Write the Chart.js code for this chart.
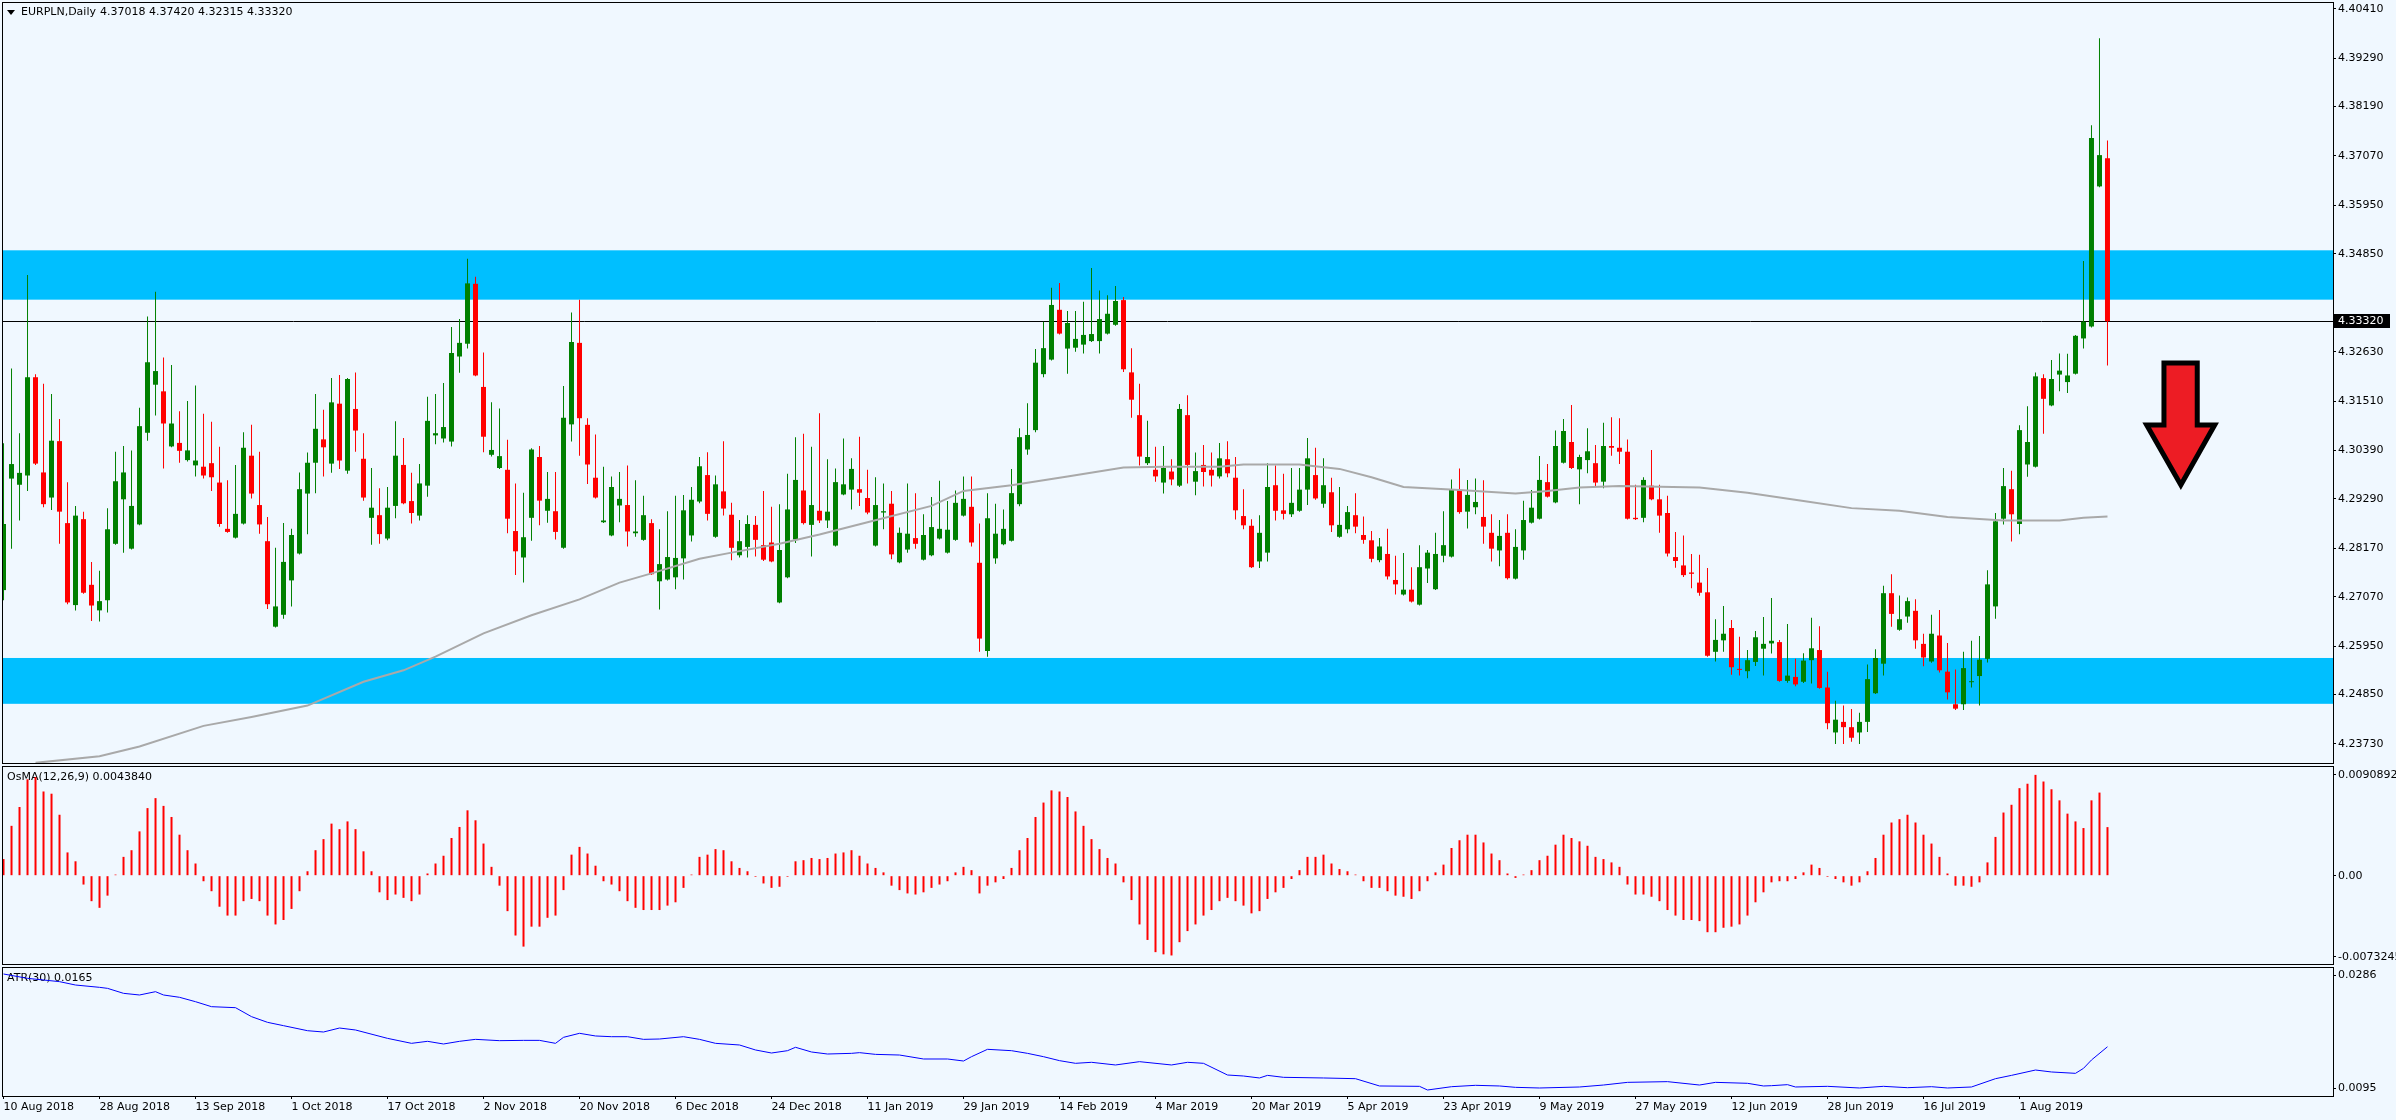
<!DOCTYPE html>
<html>
<head>
<meta charset="utf-8">
<title>EURPLN, Daily</title>
<script src="https://cdn.jsdelivr.net/npm/chart.js@4.4.1/dist/chart.umd.min.js"></script>
<style>
  body { margin: 0; background: #f0f8ff; }
  #wrap { position: relative; width: 2396px; height: 1120px; background: #f0f8ff; overflow: hidden; }
  canvas { position: absolute; left: 0; }
</style>
</head>
<body>
<div id="wrap">
  <canvas id="priceChart" width="2396" height="765" style="top:0px"></canvas>
  <canvas id="osmaChart" width="2396" height="201" style="top:765px"></canvas>
  <canvas id="atrChart" width="2396" height="154" style="top:966px"></canvas>
</div>
<script>
// ---- data (one entry per daily bar, 10 Aug 2018 .. Aug 2019) ----
var opens = [
  4.2722, 4.2975, 4.2961, 4.2982, 4.3205, 4.2989, 4.2932, 4.3060, 4.2874, 4.2688,
  4.2883, 4.2734, 4.2676, 4.2699, 4.2827, 4.2928, 4.2816, 4.2871, 4.3079, 4.3188,
  4.3173, 4.3048, 4.3056, 4.3017, 4.3005, 4.3002, 4.3010, 4.2966, 4.2861, 4.2841,
  4.2873, 4.3027, 4.2915, 4.2833, 4.2639, 4.2666, 4.2744, 4.2805, 4.2941, 4.3011,
  4.3064, 4.3009, 4.3145, 4.2993, 4.3133, 4.3020, 4.2886, 4.2892, 4.2839, 4.2913,
  4.3006, 4.2924, 4.2891, 4.2959, 4.3073, 4.3066, 4.3059, 4.3252, 4.3281, 4.3417,
  4.3183, 4.3029, 4.2999, 4.2995, 4.2856, 4.2796, 4.2886, 4.3024, 4.2902, 4.2901,
  4.2818, 4.3098, 4.3283, 4.3097, 4.2977, 4.2876, 4.2846, 4.2914, 4.2915, 4.2851,
  4.2836, 4.2874, 4.2742, 4.2746, 4.2751, 4.2794, 4.2846, 4.2923, 4.2983, 4.2843,
  4.2946, 4.2893, 4.2801, 4.2820, 4.2870, 4.2824, 4.2830, 4.2694, 4.2751, 4.2837,
  4.2948, 4.2870, 4.2902, 4.2880, 4.2823, 4.2939, 4.2950, 4.2951, 4.2931, 4.2823,
  4.2898, 4.2918, 4.2785, 4.2814, 4.2840, 4.2791, 4.2801, 4.2839, 4.2807, 4.2836,
  4.2891, 4.2911, 4.2784, 4.2584, 4.2794, 4.2826, 4.2834, 4.2917, 4.3041, 4.3085,
  4.3212, 4.3245, 4.3358, 4.3270, 4.3272, 4.3279, 4.3287, 4.3287, 4.3304, 4.3324,
  4.3380, 4.3216, 4.3119, 4.3010, 4.2995, 4.2966, 4.2991, 4.2959, 4.3119, 4.2968,
  4.3006, 4.2995, 4.2980, 4.3019, 4.2977, 4.2890, 4.2868, 4.2787, 4.2807, 4.2960,
  4.2903, 4.2894, 4.2902, 4.2950, 4.2983, 4.2918, 4.2944, 4.2843, 4.2860, 4.2892,
  4.2847, 4.2835, 4.2790, 4.2804, 4.2745, 4.2712, 4.2723, 4.2689, 4.2771, 4.2724,
  4.2800, 4.2798, 4.2949, 4.2900, 4.2910, 4.2888, 4.2852, 4.2812, 4.2852, 4.2748,
  4.2812, 4.2875, 4.2884, 4.2967, 4.2921, 4.3011, 4.3058, 4.2996, 4.3017, 4.3010,
  4.2968, 4.3049, 4.3045, 4.3036, 4.2886, 4.2886, 4.2959, 4.2928, 4.2897, 4.2797,
  4.2778, 4.2762, 4.2739, 4.2717, 4.2582, 4.2608, 4.2636, 4.2543, 4.2538, 4.2559,
  4.2589, 4.2601, 4.2604, 4.2516, 4.2525, 4.2514, 4.2563, 4.2586, 4.2501, 4.2399,
  4.2423, 4.2411, 4.2399, 4.2423, 4.2488, 4.2555, 4.2715, 4.2632, 4.2662, 4.2675,
  4.2600, 4.2560, 4.2619, 4.2537, 4.2463, 4.2463, 4.2513, 4.2527, 4.2566, 4.2685,
  4.2884, 4.2951, 4.2872, 4.3007, 4.3002, 4.3203, 4.3141, 4.3211, 4.3194, 4.3213,
  4.3293, 4.3320, 4.3638, 4.37018
];
var highs = [
  4.3055, 4.3225, 4.3078, 4.3437, 4.3212, 4.3190, 4.3167, 4.3110, 4.2967, 4.2913,
  4.2900, 4.2786, 4.2766, 4.2908, 4.3036, 4.3049, 4.3039, 4.3136, 4.3343, 4.3399,
  4.3250, 4.3233, 4.3128, 4.3151, 4.3186, 4.3122, 4.3104, 4.3047, 4.2971, 4.3006,
  4.3080, 4.3097, 4.3036, 4.2888, 4.2818, 4.2874, 4.2861, 4.2989, 4.3034, 4.3167,
  4.3131, 4.3203, 4.3210, 4.3203, 4.3216, 4.3078, 4.2999, 4.2953, 4.2956, 4.3105,
  4.3067, 4.2988, 4.3008, 4.3161, 4.3167, 4.3192, 4.3319, 4.3337, 4.3474, 4.3433,
  4.3261, 4.3148, 4.3134, 4.3063, 4.2964, 4.2943, 4.3044, 4.3049, 4.2990, 4.2990,
  4.3185, 4.3352, 4.3381, 4.3112, 4.3075, 4.3002, 4.2980, 4.2990, 4.3005, 4.2971,
  4.2936, 4.2883, 4.2860, 4.2901, 4.2936, 4.2938, 4.2956, 4.3024, 4.3035, 4.2982,
  4.3060, 4.2920, 4.2881, 4.2892, 4.2890, 4.2947, 4.2911, 4.2917, 4.2986, 4.3069,
  4.3077, 4.3047, 4.3123, 4.3019, 4.2998, 4.3066, 4.3021, 4.3070, 4.2995, 4.2978,
  4.2964, 4.2947, 4.2864, 4.2964, 4.2942, 4.2894, 4.2933, 4.2970, 4.2924, 4.2948,
  4.2980, 4.2980, 4.2873, 4.2942, 4.2918, 4.2905, 4.2997, 4.3089, 4.3146, 4.3269,
  4.3331, 4.3408, 4.3419, 4.3355, 4.3355, 4.3376, 4.3453, 4.3402, 4.3391, 4.3412,
  4.3387, 4.3271, 4.3190, 4.3106, 4.3047, 4.3049, 4.3019, 4.3144, 4.3164, 4.3034,
  4.3051, 4.3034, 4.3056, 4.3060, 4.3024, 4.2951, 4.2883, 4.2892, 4.3010, 4.3005,
  4.2986, 4.2999, 4.2999, 4.3067, 4.3045, 4.3021, 4.2977, 4.2956, 4.2913, 4.2942,
  4.2889, 4.2856, 4.2840, 4.2861, 4.2800, 4.2806, 4.2774, 4.2824, 4.2813, 4.2852,
  4.2901, 4.2973, 4.2998, 4.2972, 4.2975, 4.2971, 4.2894, 4.2881, 4.2894, 4.2860,
  4.2925, 4.2949, 4.3026, 4.3008, 4.3084, 4.3110, 4.3142, 4.3029, 4.3089, 4.3051,
  4.3102, 4.3114, 4.3112, 4.3064, 4.2961, 4.2978, 4.3040, 4.2961, 4.2936, 4.2854,
  4.2846, 4.2804, 4.2802, 4.2772, 4.2656, 4.2686, 4.2654, 4.2616, 4.2586, 4.2629,
  4.2661, 4.2704, 4.2609, 4.2645, 4.2566, 4.2579, 4.2659, 4.2640, 4.2537, 4.2471,
  4.2460, 4.2452, 4.2444, 4.2553, 4.2588, 4.2732, 4.2758, 4.2710, 4.2705, 4.2701,
  4.2623, 4.2666, 4.2677, 4.2602, 4.2542, 4.2582, 4.2607, 4.2618, 4.2767, 4.2897,
  4.2999, 4.2993, 4.3096, 4.3139, 4.3216, 4.3212, 4.3244, 4.3259, 4.3258, 4.3301,
  4.3469, 4.3777, 4.3974, 4.37420
];
var lows = [
  4.2699, 4.2816, 4.2880, 4.2947, 4.3006, 4.2910, 4.2904, 4.2827, 4.2690, 4.2676,
  4.2714, 4.2652, 4.2651, 4.2671, 4.2825, 4.2807, 4.2814, 4.2869, 4.3061, 4.3118,
  4.2998, 4.3046, 4.3011, 4.3014, 4.2980, 4.2975, 4.2947, 4.2866, 4.2852, 4.2839,
  4.2871, 4.2930, 4.2850, 4.2679, 4.2637, 4.2657, 4.2685, 4.2803, 4.2849, 4.2942,
  4.2980, 4.2988, 4.2997, 4.2986, 4.3036, 4.2925, 4.2825, 4.2827, 4.2835, 4.2885,
  4.2917, 4.2873, 4.2880, 4.2934, 4.3053, 4.3057, 4.3048, 4.3215, 4.3270, 4.3207,
  4.3035, 4.3025, 4.2997, 4.2851, 4.2756, 4.2739, 4.2834, 4.2869, 4.2875, 4.2837,
  4.2816, 4.3059, 4.3027, 4.2963, 4.2930, 4.2874, 4.2844, 4.2876, 4.2821, 4.2843,
  4.2834, 4.2756, 4.2678, 4.2744, 4.2724, 4.2746, 4.2832, 4.2919, 4.2880, 4.2841,
  4.2891, 4.2790, 4.2796, 4.2796, 4.2798, 4.2788, 4.2785, 4.2692, 4.2749, 4.2829,
  4.2871, 4.2798, 4.2874, 4.2863, 4.2821, 4.2937, 4.2905, 4.2913, 4.2894, 4.2821,
  4.2860, 4.2792, 4.2783, 4.2807, 4.2816, 4.2789, 4.2799, 4.2837, 4.2805, 4.2834,
  4.2889, 4.2821, 4.2582, 4.2571, 4.2782, 4.2824, 4.2832, 4.2912, 4.3029, 4.3080,
  4.3205, 4.3243, 4.3302, 4.3213, 4.3263, 4.3259, 4.3285, 4.3259, 4.3302, 4.3322,
  4.3217, 4.3113, 4.3005, 4.3006, 4.2968, 4.2941, 4.2960, 4.2956, 4.2964, 4.2937,
  4.2957, 4.2957, 4.2975, 4.2978, 4.2882, 4.2860, 4.2772, 4.2772, 4.2787, 4.2880,
  4.2882, 4.2888, 4.2900, 4.2915, 4.2927, 4.2909, 4.2854, 4.2841, 4.2851, 4.2851,
  4.2827, 4.2785, 4.2785, 4.2746, 4.2712, 4.2710, 4.2694, 4.2687, 4.2738, 4.2722,
  4.2785, 4.2796, 4.2895, 4.2862, 4.2894, 4.2827, 4.2787, 4.2776, 4.2746, 4.2746,
  4.2791, 4.2873, 4.2882, 4.2932, 4.2919, 4.3009, 4.2997, 4.2917, 4.2987, 4.2958,
  4.2953, 4.3027, 4.3008, 4.2882, 4.2881, 4.2876, 4.2926, 4.2852, 4.2798, 4.2773,
  4.2752, 4.2726, 4.2709, 4.2571, 4.2560, 4.2582, 4.2530, 4.2528, 4.2522, 4.2550,
  4.2528, 4.2578, 4.2514, 4.2512, 4.2504, 4.2511, 4.2510, 4.2498, 4.2406, 4.2373,
  4.2373, 4.2378, 4.2373, 4.2400, 4.2486, 4.2528, 4.2639, 4.2630, 4.2648, 4.2589,
  4.2549, 4.2557, 4.2535, 4.2474, 4.2450, 4.2450, 4.2501, 4.2460, 4.2558, 4.2657,
  4.2871, 4.2832, 4.2849, 4.2979, 4.3000, 4.3077, 4.3139, 4.3173, 4.3169, 4.3211,
  4.3270, 4.3318, 4.3636, 4.32315
];
var closes = [
  4.2872, 4.3008, 4.2988, 4.3205, 4.3009, 4.2917, 4.3061, 4.2900, 4.2694, 4.2891,
  4.2716, 4.2687, 4.2697, 4.2860, 4.2969, 4.2989, 4.2913, 4.3094, 4.3239, 4.3219,
  4.3100, 4.3100, 4.3038, 4.3039, 4.3016, 4.2982, 4.2978, 4.2872, 4.2854, 4.2895,
  4.3045, 4.2941, 4.2871, 4.2690, 4.2685, 4.2786, 4.2847, 4.2951, 4.3011, 4.3088,
  4.3046, 4.3148, 4.3016, 4.3201, 4.3084, 4.2932, 4.2909, 4.2849, 4.2909, 4.3027,
  4.2919, 4.2897, 4.2964, 4.3106, 4.3078, 4.3092, 4.3260, 4.3283, 4.3418, 4.3209,
  4.3070, 4.3040, 4.3026, 4.2884, 4.2810, 4.2842, 4.3041, 4.2925, 4.2929, 4.2854,
  4.3113, 4.3285, 4.3112, 4.3007, 4.2932, 4.2880, 4.2956, 4.2929, 4.2855, 4.2855,
  4.2892, 4.2758, 4.2781, 4.2797, 4.2795, 4.2903, 4.2927, 4.3003, 4.2895, 4.2962,
  4.2907, 4.2818, 4.2833, 4.2872, 4.2836, 4.2791, 4.2787, 4.2813, 4.2905, 4.2972,
  4.2874, 4.2915, 4.2880, 4.2900, 4.2967, 4.2962, 4.2997, 4.2943, 4.2898, 4.2915,
  4.2901, 4.2803, 4.2852, 4.2850, 4.2827, 4.2847, 4.2865, 4.2861, 4.2859, 4.2920,
  4.2929, 4.2830, 4.2612, 4.2885, 4.2850, 4.2861, 4.2942, 4.3069, 4.3074, 4.3238,
  4.3271, 4.3369, 4.3304, 4.3328, 4.3292, 4.3301, 4.3303, 4.3337, 4.3349, 4.3378,
  4.3223, 4.3154, 4.3025, 4.3024, 4.2980, 4.2999, 4.2973, 4.3133, 4.3006, 4.2992,
  4.2990, 4.2982, 4.3021, 4.2987, 4.2903, 4.2869, 4.2774, 4.2852, 4.2956, 4.2902,
  4.2895, 4.2920, 4.2950, 4.3021, 4.2930, 4.2960, 4.2869, 4.2870, 4.2899, 4.2866,
  4.2836, 4.2793, 4.2821, 4.2753, 4.2735, 4.2723, 4.2696, 4.2774, 4.2807, 4.2804,
  4.2824, 4.2950, 4.2899, 4.2938, 4.2922, 4.2866, 4.2816, 4.2845, 4.2749, 4.2820,
  4.2881, 4.2909, 4.2972, 4.2934, 4.3049, 4.3083, 4.2999, 4.3024, 4.3037, 4.2966,
  4.3049, 4.3045, 4.3036, 4.2884, 4.2883, 4.2972, 4.2928, 4.2891, 4.2805, 4.2788,
  4.2756, 4.2759, 4.2716, 4.2573, 4.2609, 4.2623, 4.2547, 4.2541, 4.2563, 4.2615,
  4.2600, 4.2607, 4.2516, 4.2528, 4.2508, 4.2562, 4.2590, 4.2500, 4.2420, 4.2428,
  4.2411, 4.2387, 4.2423, 4.2520, 4.2568, 4.2715, 4.2668, 4.2656, 4.2697, 4.2608,
  4.2569, 4.2623, 4.2540, 4.2490, 4.2453, 4.2545, 4.2515, 4.2564, 4.2735, 4.2878,
  4.2958, 4.2894, 4.3085, 4.3058, 4.3207, 4.3156, 4.3201, 4.3220, 4.3209, 4.3299,
  4.3331, 4.3748, 4.3709, 4.33320
];

// moving average (grey line), sampled at bar indices
var maIdx = [4, 12, 17, 25, 31, 38, 45, 50, 54, 60,
  66, 72, 77, 81, 87, 91, 97, 102, 108, 116,
  120, 126, 133, 140, 145, 152, 155, 162, 167, 171,
  175, 182, 189, 193, 197, 202, 212, 218, 225, 231,
  237, 243, 250, 257, 260, 263];
var maVal = [4.2330, 4.2345, 4.2367, 4.2414, 4.2434, 4.2460, 4.2514, 4.2540, 4.2571, 4.2624,
  4.2665, 4.2701, 4.2739, 4.2760, 4.2793, 4.2807, 4.2827, 4.2848, 4.2876, 4.2913,
  4.2947, 4.2960, 4.2980, 4.3000, 4.3002, 4.3002, 4.3007, 4.3007, 4.2997, 4.2978,
  4.2956, 4.2949, 4.2941, 4.2947, 4.2955, 4.2958, 4.2955, 4.2943, 4.2924, 4.2908,
  4.2902, 4.2888, 4.2880, 4.2880, 4.2886, 4.2889];

// OsMA(12,26,9) histogram, one per bar
var osma = [
  0.0015, 0.0045, 0.0062, 0.0087, 0.0089, 0.0076, 0.0074, 0.0055, 0.0021, 0.0013,
  -0.0008, -0.0023, -0.0029, -0.0018, 0.0001, 0.0017, 0.0023, 0.0040, 0.0061, 0.0070,
  0.0063, 0.0053, 0.0037, 0.0023, 0.0011, -0.0005, -0.0014, -0.0028, -0.0036, -0.0036,
  -0.0023, -0.0021, -0.0023, -0.0036, -0.0044, -0.0040, -0.0030, -0.0014, 0.0004, 0.0023,
  0.0033, 0.0047, 0.0042, 0.0049, 0.0042, 0.0022, 0.0004, -0.0015, -0.0022, -0.0017,
  -0.0020, -0.0023, -0.0017, 0.0002, 0.0011, 0.0018, 0.0034, 0.0044, 0.0059, 0.0050,
  0.0029, 0.0008, -0.0009, -0.0032, -0.0054, -0.0064, -0.0046, -0.0046, -0.0038, -0.0036,
  -0.0013, 0.0019, 0.0026, 0.0020, 0.0009, -0.0005, -0.0008, -0.0014, -0.0023, -0.0029,
  -0.0031, -0.0031, -0.0031, -0.0027, -0.0024, -0.0011, 0.0001, 0.0017, 0.0019, 0.0024,
  0.0023, 0.0013, 0.0007, 0.0004, -0.0001, -0.0007, -0.0011, -0.0010, -0.0001, 0.0013,
  0.0014, 0.0016, 0.0015, 0.0016, 0.0020, 0.0021, 0.0023, 0.0018, 0.0011, 0.0007,
  0.0003, -0.0009, -0.0013, -0.0016, -0.0017, -0.0015, -0.0011, -0.0008, -0.0005, 0.0003,
  0.0008, 0.0005, -0.0016, -0.0009, -0.0006, -0.0003, 0.0007, 0.0023, 0.0034, 0.0053,
  0.0066, 0.0077, 0.0076, 0.0071, 0.0058, 0.0045, 0.0033, 0.0024, 0.0016, 0.0011,
  -0.0006, -0.0022, -0.0044, -0.0058, -0.0069, -0.0071, -0.0072, -0.0060, -0.0050, -0.0044,
  -0.0036, -0.0031, -0.0023, -0.0020, -0.0023, -0.0027, -0.0034, -0.0032, -0.0021, -0.0015,
  -0.0011, -0.0003, 0.0005, 0.0017, 0.0017, 0.0019, 0.0011, 0.0006, 0.0004, 0.0001,
  -0.0005, -0.0011, -0.0011, -0.0014, -0.0018, -0.0019, -0.0021, -0.0014, -0.0005, 0.0003,
  0.0010, 0.0025, 0.0032, 0.0037, 0.0037, 0.0030, 0.0020, 0.0014, 0.0002, -0.0002,
  0.0001, 0.0005, 0.0014, 0.0018, 0.0028, 0.0037, 0.0034, 0.0031, 0.0027, 0.0017,
  0.0015, 0.0012, 0.0008, -0.0008, -0.0017, -0.0017, -0.0019, -0.0023, -0.0031, -0.0036,
  -0.0040, -0.0040, -0.0041, -0.0051, -0.0051, -0.0047, -0.0046, -0.0044, -0.0036, -0.0024,
  -0.0015, -0.0006, -0.0005, -0.0005, -0.0003, 0.0003, 0.0010, 0.0007, -0.0001, -0.0003,
  -0.0006, -0.0009, -0.0006, 0.0004, 0.0016, 0.0037, 0.0048, 0.0051, 0.0055, 0.0048,
  0.0037, 0.0029, 0.0017, 0.0002, -0.0009, -0.0009, -0.0010, -0.0006, 0.0012, 0.0035,
  0.0057, 0.0064, 0.0079, 0.0083, 0.0091, 0.0085, 0.0078, 0.0068, 0.0056, 0.0049,
  0.0043, 0.0068, 0.0075, 0.004384
];

// ATR(30), sampled at bar indices
var atrIdx = [0, 3, 5, 7, 9, 12, 13, 15, 17, 19,
  20, 22, 24, 26, 29, 31, 33, 35, 38, 40,
  42, 44, 48, 51, 53, 55, 57, 59, 62, 65,
  67, 69, 70, 72, 74, 76, 78, 80, 82, 85,
  87, 89, 92, 94, 96, 98, 99, 101, 103, 106,
  107, 109, 112, 115, 118, 120, 121, 123, 126, 128,
  130, 132, 134, 136, 139, 142, 146, 148, 150, 153,
  155, 157, 158, 160, 165, 169, 172, 177, 178, 181,
  184, 187, 189, 192, 197, 200, 203, 208, 212, 214,
  218, 220, 221, 223, 224, 228, 232, 235, 238, 241,
  243, 246, 249, 251, 254, 256, 259, 260, 261, 263];
var atrVal = [0.02877, 0.02804, 0.02776, 0.02748, 0.02691, 0.02652, 0.02635, 0.02551, 0.02523, 0.02579,
  0.02523, 0.02484, 0.02410, 0.02326, 0.02309, 0.02158, 0.02062, 0.02006, 0.01921, 0.01899,
  0.01966, 0.01933, 0.01792, 0.01708, 0.01742, 0.01697, 0.01742, 0.01775, 0.01753, 0.01758,
  0.01758, 0.01708, 0.01809, 0.01877, 0.01832, 0.01820, 0.01820, 0.01775, 0.01781, 0.01820,
  0.01775, 0.01708, 0.01680, 0.01596, 0.01545, 0.01584, 0.01641, 0.01562, 0.01528, 0.01539,
  0.01551, 0.01522, 0.01511, 0.01444, 0.01444, 0.01410, 0.01483, 0.01607, 0.01584, 0.01539,
  0.01483, 0.01416, 0.01371, 0.01388, 0.01343, 0.01399, 0.01343, 0.01388, 0.01371, 0.01174,
  0.01157, 0.01124, 0.01168, 0.01135, 0.01124, 0.01112, 0.00989, 0.00983, 0.00921, 0.00977,
  0.01000, 0.00989, 0.00966, 0.00955, 0.00972, 0.01005, 0.01050, 0.01062, 0.01005, 0.01050,
  0.01034, 0.00989, 0.00994, 0.01011, 0.00972, 0.00983, 0.00955, 0.00983, 0.00960, 0.00977,
  0.00955, 0.00972, 0.01112, 0.01168, 0.01258, 0.01225, 0.01202, 0.01286, 0.01427, 0.0165];

// axis labels
var dateIdx = [0, 12, 24, 36, 48, 60, 72, 84, 96, 108, 120, 132, 144, 156, 168, 180, 192, 204, 216, 228, 240, 252];
var dateLabels = ["10 Aug 2018", "28 Aug 2018", "13 Sep 2018", "1 Oct 2018", "17 Oct 2018", "2 Nov 2018",
  "20 Nov 2018", "6 Dec 2018", "24 Dec 2018", "11 Jan 2019", "29 Jan 2019", "14 Feb 2019", "4 Mar 2019",
  "20 Mar 2019", "5 Apr 2019", "23 Apr 2019", "9 May 2019", "27 May 2019", "12 Jun 2019", "28 Jun 2019",
  "16 Jul 2019", "1 Aug 2019"];
var priceTicks = [4.40410, 4.39290, 4.38190, 4.37070, 4.35950, 4.34850, 4.32630, 4.31510,
  4.30390, 4.29290, 4.28170, 4.27070, 4.25950, 4.24850, 4.23730];
var osmaTicks = [0.0090892, 0, -0.0073245];
var atrTicks = [0.0286, 0.0095];

// support / resistance zones (price ranges)
var zones = [[4.3381, 4.3493], [4.2464, 4.2568]];

// ---- layout ----
var FONT = "'DejaVu Sans', sans-serif";
var X_MIN = -0.19, X_MAX = 291.19;
var GREEN = '#008000', RED = '#ff0000';
// arrow annotation, in bar / price units
var arrow = { headL: 267.9, shaftL: 270.06, tip: 272.17, shaftR: 274.22, headR: 276.4,
  top: 4.32373, neck: 4.30966, bottom: 4.29605 };

Chart.defaults.font.family = FONT;
Chart.defaults.font.size = 11;
Chart.defaults.color = '#000';

var last = closes.length - 1;
var candleColors = closes.map(function (c, i) { return c >= opens[i] ? GREEN : RED; });

function hiddenX() {
  return {
    type: 'linear', min: X_MIN, max: X_MAX, offset: false, display: false,
    afterFit: function (a) { a.paddingLeft = 0; a.paddingRight = 0; }
  };
}

function rightAxis(min, max, vals, fmt) {
  return {
    position: 'right', min: min, max: max,
    grid: { drawOnChartArea: false, drawTicks: true, tickLength: 3, color: '#000' },
    border: { display: true, color: '#000' },
    ticks: { autoSkip: false, padding: 2, color: '#000', font: { family: FONT, size: 11 }, callback: fmt },
    afterBuildTicks: function (a) { a.ticks = vals.map(function (v) { return { value: v }; }); },
    afterFit: function (a) { a.width = 63; a.paddingTop = 0; a.paddingBottom = 0; }
  };
}

function baseOptions(pad, scales) {
  return {
    responsive: false, animation: false, devicePixelRatio: 1, events: [],
    layout: { padding: pad },
    plugins: { legend: { display: false }, tooltip: { enabled: false } },
    scales: scales
  };
}

function drawFrame(chart) {
  var a = chart.chartArea, ctx = chart.ctx;
  ctx.save();
  ctx.strokeStyle = '#000';
  ctx.lineWidth = 1;
  ctx.strokeRect(a.left + 0.5, a.top + 0.5, a.right - a.left, a.bottom - a.top);
  ctx.restore();
}

function panelLabel(chart, text) {
  var a = chart.chartArea, ctx = chart.ctx;
  ctx.save();
  ctx.fillStyle = '#000';
  ctx.font = '11px ' + FONT;
  ctx.textBaseline = 'middle';
  ctx.fillText(text, a.left + 5, a.top + 11);
  ctx.restore();
}

var pricePanel = {
  id: 'pricePanel',
  beforeDatasetsDraw: function (chart) {
    var ctx = chart.ctx, a = chart.chartArea, y = chart.scales.y;
    ctx.save();
    ctx.fillStyle = '#00bfff';
    zones.forEach(function (z) {
      var t = y.getPixelForValue(z[1]), b = y.getPixelForValue(z[0]);
      ctx.fillRect(a.left, t, a.right - a.left, b - t);
    });
    var yc = Math.round(y.getPixelForValue(closes[last])) + 0.5;
    ctx.strokeStyle = '#000';
    ctx.lineWidth = 1;
    ctx.beginPath();
    ctx.moveTo(a.left, yc);
    ctx.lineTo(a.right, yc);
    ctx.stroke();
    ctx.restore();
  },
  afterDraw: function (chart) {
    var ctx = chart.ctx, x = chart.scales.x, y = chart.scales.y;
    ctx.save();
    // red arrow
    var px = function (v) { return x.getPixelForValue(v); };
    var py = function (v) { return y.getPixelForValue(v); };
    ctx.beginPath();
    ctx.moveTo(px(arrow.shaftL), py(arrow.top));
    ctx.lineTo(px(arrow.shaftR), py(arrow.top));
    ctx.lineTo(px(arrow.shaftR), py(arrow.neck));
    ctx.lineTo(px(arrow.headR), py(arrow.neck));
    ctx.lineTo(px(arrow.tip), py(arrow.bottom));
    ctx.lineTo(px(arrow.headL), py(arrow.neck));
    ctx.lineTo(px(arrow.shaftL), py(arrow.neck));
    ctx.closePath();
    ctx.fillStyle = '#ed1c24';
    ctx.fill();
    ctx.lineWidth = 5;
    ctx.lineJoin = 'miter';
    ctx.strokeStyle = '#000';
    ctx.stroke();

    // header
    ctx.fillStyle = '#000';
    ctx.beginPath();
    ctx.moveTo(7, 10); ctx.lineTo(15, 10); ctx.lineTo(11, 15); ctx.closePath();
    ctx.fill();
    ctx.font = '11px ' + FONT;
    ctx.textBaseline = 'middle';
    ctx.fillText('EURPLN,Daily', 21, 12);
    ctx.fillText([opens[last], highs[last], lows[last], closes[last]].map(function (v) { return v.toFixed(5); }).join(' '), 100, 12);

    // current price tag
    var yc = Math.round(y.getPixelForValue(closes[last]));
    ctx.fillStyle = '#000';
    ctx.fillRect(chart.chartArea.right + 1, yc - 7, 56, 14);
    ctx.fillStyle = '#fff';
    ctx.fillText(closes[last].toFixed(5), chart.chartArea.right + 5, yc);
    ctx.restore();
    drawFrame(chart);
  }
};

new Chart(document.getElementById('priceChart'), {
  type: 'bar',
  data: {
    datasets: [
      { type: 'line', data: maIdx.map(function (v, k) { return { x: v, y: maVal[k] }; }),
        borderColor: '#a9a9a9', borderWidth: 2, pointRadius: 0, tension: 0, order: 0 },
      { data: opens.map(function (o, i) { return { x: i, y: [o, closes[i]] }; }),
        backgroundColor: candleColors, barThickness: 5, minBarLength: 1, grouped: false,
        borderWidth: 0, inflateAmount: 0, order: 1 },
      { data: lows.map(function (l, i) { return { x: i, y: [l, highs[i]] }; }),
        backgroundColor: candleColors, barThickness: 1, grouped: false,
        borderWidth: 0, inflateAmount: 0, order: 2 }
    ]
  },
  options: baseOptions({ left: 2, top: 2, right: 0, bottom: 2 }, {
    x: hiddenX(),
    y: rightAxis(4.23297, 4.40564, priceTicks, function (v) { return v.toFixed(5); })
  }),
  plugins: [pricePanel]
});

new Chart(document.getElementById('osmaChart'), {
  type: 'bar',
  data: {
    datasets: [
      { data: osma.map(function (v, i) { return { x: i, y: v }; }),
        backgroundColor: RED, barThickness: 2, borderWidth: 0, inflateAmount: 0 }
    ]
  },
  options: baseOptions({ left: 2, top: 1, right: 0, bottom: 2 }, {
    x: hiddenX(),
    y: rightAxis(-0.00797, 0.0099, osmaTicks, function (v) { return v === 0 ? '0.00' : v.toFixed(7); })
  }),
  plugins: [{
    id: 'osmaPanel',
    beforeDatasetsDraw: function (chart) { panelLabel(chart, 'OsMA(12,26,9) ' + osma[last].toFixed(7)); },
    afterDraw: drawFrame
  }]
});

new Chart(document.getElementById('atrChart'), {
  type: 'line',
  data: {
    datasets: [
      { data: atrIdx.map(function (v, k) { return { x: v, y: atrVal[k] }; }),
        borderColor: '#0000ff', borderWidth: 1, pointRadius: 0, tension: 0 }
    ]
  },
  options: baseOptions({ left: 2, top: 1, right: 0, bottom: 0 }, {
    x: {
      type: 'linear', min: X_MIN, max: X_MAX, offset: false,
      grid: { drawOnChartArea: false, drawTicks: true, tickLength: 3, color: '#000' },
      border: { display: true, color: '#000' },
      ticks: {
        autoSkip: false, maxRotation: 0, align: 'start', padding: 2, color: '#000',
        font: { family: FONT, size: 11 },
        callback: function (v) { var k = dateIdx.indexOf(v); return k >= 0 ? dateLabels[k] : ''; }
      },
      afterBuildTicks: function (a) { a.ticks = dateIdx.map(function (v) { return { value: v }; }); },
      afterFit: function (a) { a.height = 24; a.paddingLeft = 0; a.paddingRight = 0; }
    },
    y: rightAxis(0.0082, 0.02995, atrTicks, function (v) { return v.toFixed(4); })
  }),
  plugins: [{
    id: 'atrPanel',
    beforeDatasetsDraw: function (chart) { panelLabel(chart, 'ATR(30) ' + atrVal[atrVal.length - 1].toFixed(4)); },
    afterDraw: drawFrame
  }]
});
</script>
</body>
</html>
